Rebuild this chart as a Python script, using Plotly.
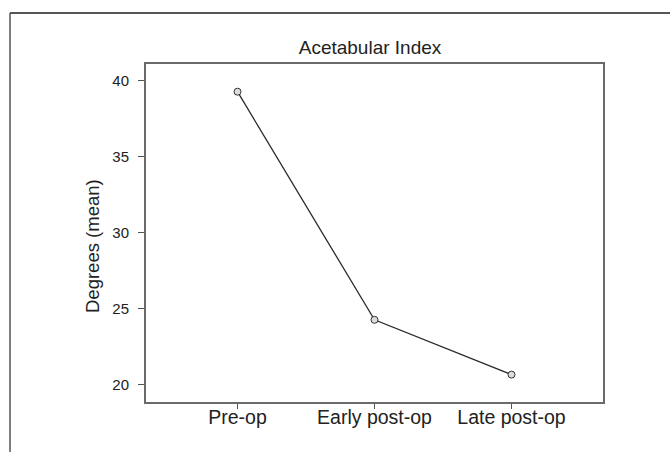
import plotly.graph_objects as go

categories = ["Pre-op", "Early post-op", "Late post-op"]
values = [39.25, 24.26, 20.66]
y_ticks = [20, 25, 30, 35, 40]

W, H = 670, 452
L, R, T, B = 146, 67, 64, 50
pw, ph = W - L - R, H - T - B

def px_x(p):
    return (p - L) / pw

def px_y(p):
    return 1 - (p - T) / ph

fig = go.Figure()
fig.add_trace(go.Scatter(
    x=categories, y=values, mode="lines+markers",
    line=dict(color="#2b2b2b", width=1.3),
    marker=dict(symbol="circle", size=7, color="#dcdcdc",
                line=dict(color="#333333", width=1)),
    showlegend=False, hoverinfo="skip",
))

font = "Liberation Sans, Arial, Helvetica, sans-serif"
fig.update_layout(
    width=W, height=H,
    margin=dict(l=L, r=R, t=T, b=B),
    paper_bgcolor="white", plot_bgcolor="white",
    font=dict(family=font, color="#222222"),
    title=dict(text="Acetabular Index", x=370 / W, xanchor="center",
               y=1 - 47 / H, yanchor="middle", yref="container",
               font=dict(size=19, family=font, color="#222222")),
    xaxis=dict(range=[-0.668, 2.668], showgrid=False, zeroline=False,
               showline=True, linecolor="#6a6a6a", linewidth=2, mirror=True,
               ticks="outside", ticklen=5, tickwidth=1.2, tickcolor="#555555",
               ticklabelstandoff=-8,
               tickfont=dict(size=19.5, family=font, color="#222222")),
    yaxis=dict(range=[18.86, 41.07], tickvals=y_ticks, showgrid=False,
               zeroline=False, showline=True, linecolor="#6a6a6a", linewidth=2,
               mirror=True, ticks="outside", ticklen=6, tickwidth=1.2,
               tickcolor="#555555", ticklabelstandoff=6,
               tickfont=dict(size=15, family=font, color="#222222")),
    annotations=[dict(text="Degrees (mean)", textangle=-90, xref="paper",
                      yref="paper", x=px_x(92), y=px_y(246), showarrow=False,
                      xanchor="center", yanchor="middle",
                      font=dict(size=18.5, family=font, color="#222222"))],
    shapes=[
        dict(type="line", xref="paper", yref="paper", x0=px_x(10), y0=px_y(13),
             x1=px_x(672), y1=px_y(13), line=dict(color="#555555", width=2)),
        dict(type="line", xref="paper", yref="paper", x0=px_x(10), y0=px_y(13),
             x1=px_x(10), y1=px_y(454), line=dict(color="#555555", width=1.5)),
    ],
)

fig.write_html("out.html", config={"displayModeBar": False},
               post_script="document.body.style.margin='0';document.body.style.overflow='hidden';")
